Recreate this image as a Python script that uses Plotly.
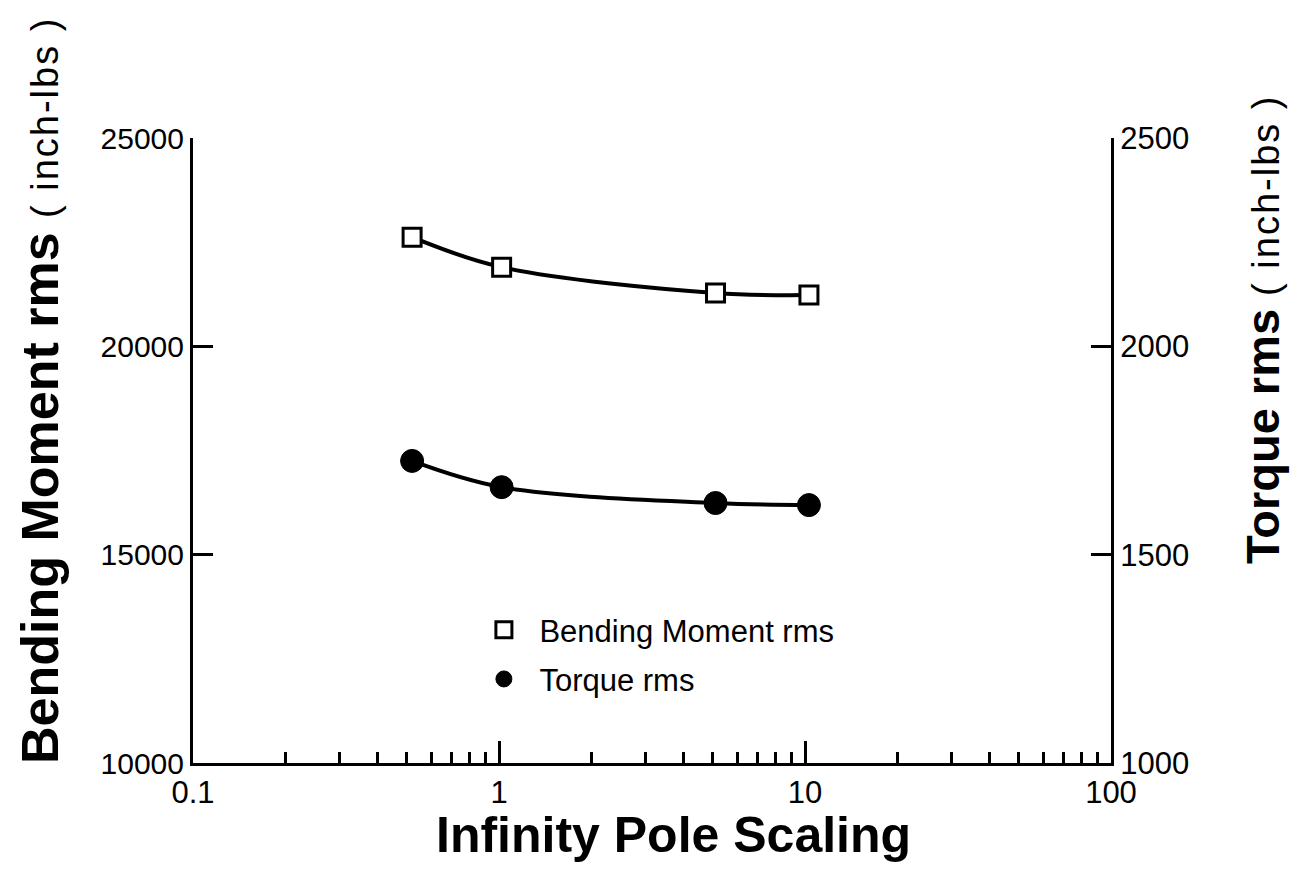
import plotly.graph_objects as go

# Data
scaling = [0.52, 1.02, 5.1, 10.3]
bending_rms = [22620, 21900, 21280, 21230]
torque_rms = [1725, 1662, 1624, 1619]

x_major = [0.1, 1, 10, 100]
x_major_text = ["0.1", "1", "10", "100"]
x_minor = [m * d for d in [0.1, 1, 10] for m in range(2, 10)]
y1_ticks = [10000, 15000, 20000, 25000]
y1_text = ["10000", "15000", "20000", "25000"]
y2_ticks = [1000, 1500, 2000, 2500]
y2_text = ["1000", "1500", "2000", "2500"]

FONT = "Liberation Sans, Arial, Helvetica, sans-serif"

fig = go.Figure()

# fitted curves
fig.add_trace(go.Scatter(x=scaling, y=bending_rms, mode="lines",
                         line=dict(color="black", width=4, shape="spline", smoothing=1.0),
                         showlegend=False, yaxis="y"))
fig.add_trace(go.Scatter(x=scaling, y=torque_rms, mode="lines",
                         line=dict(color="black", width=4, shape="spline", smoothing=1.0),
                         showlegend=False, yaxis="y2"))
# data points
fig.add_trace(go.Scatter(x=scaling, y=bending_rms, mode="markers", name="Bending Moment rms",
                         marker=dict(symbol="square", size=18, color="white",
                                     line=dict(color="black", width=3)),
                         legendgroup="a", yaxis="y"))
fig.add_trace(go.Scatter(x=scaling, y=torque_rms, mode="markers", name="Torque rms",
                         marker=dict(symbol="circle", size=23, color="black",
                                     line=dict(color="black", width=1)),
                         legendgroup="b", yaxis="y2"))

fig.update_layout(
    width=1298, height=891,
    margin=dict(l=185, r=195, t=130, b=136),
    paper_bgcolor="white", plot_bgcolor="white",
    font=dict(family=FONT, color="black", size=26),
    showlegend=True,
    legend=dict(x=0.300, y=0.256, xanchor="left", yanchor="top",
                bgcolor="rgba(0,0,0,0)", font=dict(size=31, family=FONT),
                traceorder="grouped", tracegroupgap=6, itemwidth=61),
    xaxis=dict(type="log", range=[-1, 2], showgrid=False, zeroline=False,
               showline=True, linecolor="black", linewidth=3, mirror=False,
               ticks="inside", ticklen=22, tickwidth=2.5, tickcolor="black",
               tickmode="array", tickvals=x_major, ticktext=x_major_text,
               tickfont=dict(size=31, family=FONT),
               minor=dict(tickmode="array", tickvals=x_minor, ticks="inside",
                          ticklen=11, tickwidth=2.5, tickcolor="black", showgrid=False)),
    yaxis=dict(range=[10000, 25000], showgrid=False, zeroline=False,
               showline=True, linecolor="black", linewidth=3,
               ticks="inside", ticklen=20, tickwidth=2.5, tickcolor="black",
               tickmode="array", tickvals=y1_ticks, ticktext=y1_text,
               tickfont=dict(size=30, family=FONT)),
    yaxis2=dict(range=[1000, 2500], overlaying="y", side="right", showgrid=False,
                zeroline=False, showline=True, linecolor="black", linewidth=3,
                ticks="inside", ticklen=20, tickwidth=2.5, tickcolor="black",
                tickmode="array", tickvals=y2_ticks, ticktext=y2_text,
                tickfont=dict(size=31, family=FONT)),
)

small = "<span style='font-size:38px;letter-spacing:2px'>( inch-lbs )</span>"
fig.add_annotation(text="<b>Infinity Pole Scaling</b>", xref="paper", yref="paper",
                   x=(673 - 193) / 918, y=-(835 - 763) / 625, showarrow=False,
                   xanchor="center", yanchor="middle", font=dict(size=50, family=FONT))
fig.add_annotation(text="<b>Bending Moment rms</b> " + small,
                   xref="paper", yref="paper", x=-(193 - 40) / 918, y=(763 - 391) / 625,
                   showarrow=False, textangle=-90, xanchor="center", yanchor="middle",
                   font=dict(size=52, family=FONT))
fig.add_annotation(text="<b>Torque rms</b> " + small,
                   xref="paper", yref="paper", x=(1262 - 193) / 918, y=(763 - 329) / 625,
                   showarrow=False, textangle=-90, xanchor="center", yanchor="middle",
                   font=dict(size=47, family=FONT))

fig.write_html("out.html")
